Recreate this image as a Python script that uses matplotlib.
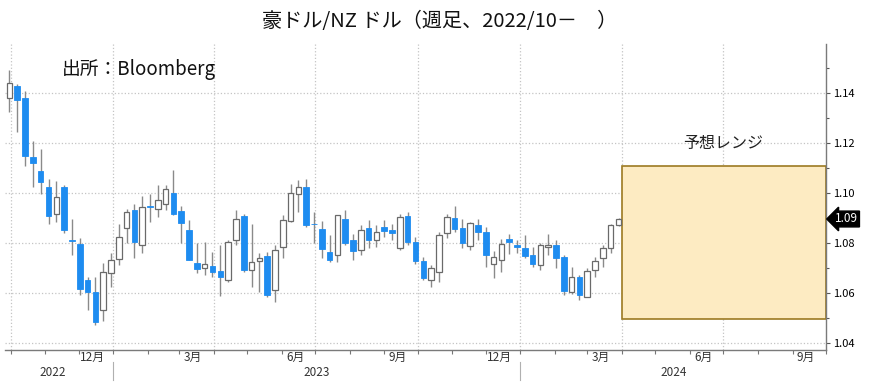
import matplotlib
matplotlib.use("Agg")
import matplotlib.pyplot as plt
import matplotlib.dates as mdates
import matplotlib.transforms as mtransforms
from matplotlib.lines import Line2D
from matplotlib.patches import Rectangle
import numpy as np
import pandas as pd

plt.rcParams['font.family'] = ['Noto Sans CJK JP', 'DejaVu Sans']

# weekly candles, AUD/NZD
dates = pd.date_range("2022-09-30", periods=79, freq="7D")
opens = [1.1380, 1.1427, 1.1380, 1.1144, 1.1088, 1.1024, 1.0917, 1.1021, 1.0812, 1.0795,
         1.0651, 1.0601, 1.0533, 1.0677, 1.0735, 1.0857, 1.0931, 1.0791, 1.0943, 1.0935,
         1.0956, 1.1000, 1.0927, 1.0853, 1.0720, 1.0697, 1.0707, 1.0687, 1.0651, 1.0811,
         1.0907, 1.0691, 1.0725, 1.0747, 1.0611, 1.0784, 1.0887, 1.0997, 1.1024, 1.0874,
         1.0856, 1.0763, 1.0753, 1.0896, 1.0811, 1.0773, 1.0857, 1.0813, 1.0861, 1.0851,
         1.0777, 1.0907, 1.0804, 1.0727, 1.0651, 1.0684, 1.0837, 1.0900, 1.0857, 1.0788,
         1.0871, 1.0841, 1.0715, 1.0731, 1.0815, 1.0793, 1.0777, 1.0751, 1.0713, 1.0784,
         1.0793, 1.0744, 1.0601, 1.0661, 1.0584, 1.0689, 1.0737, 1.0777, 1.0870]
highs = [1.1493, 1.1435, 1.1408, 1.1208, 1.1177, 1.1057, 1.1047, 1.1031, 1.0897, 1.0817,
         1.0664, 1.0664, 1.0720, 1.0760, 1.0877, 1.0937, 1.0955, 1.0987, 1.0997, 1.1031,
         1.1031, 1.1091, 1.0948, 1.0893, 1.0800, 1.0804, 1.0764, 1.0791, 1.0811, 1.0931,
         1.0917, 1.0877, 1.0757, 1.0764, 1.0791, 1.0911, 1.1037, 1.1053, 1.1057, 1.0924,
         1.0888, 1.0831, 1.0911, 1.0931, 1.0835, 1.0871, 1.0893, 1.0871, 1.0893, 1.0877,
         1.0917, 1.0924, 1.0824, 1.0741, 1.0711, 1.0844, 1.0915, 1.0948, 1.0897, 1.0884,
         1.0897, 1.0861, 1.0768, 1.0815, 1.0835, 1.0811, 1.0831, 1.0784, 1.0797, 1.0835,
         1.0811, 1.0753, 1.0701, 1.0671, 1.0697, 1.0743, 1.0791, 1.0877, 1.0900]
lows = [1.1324, 1.1244, 1.1107, 1.1024, 1.0997, 1.0875, 1.0884, 1.0837, 1.0751, 1.0591,
        1.0533, 1.0471, 1.0488, 1.0624, 1.0711, 1.0800, 1.0737, 1.0757, 1.0884, 1.0901,
        1.0931, 1.0911, 1.0797, 1.0731, 1.0677, 1.0671, 1.0664, 1.0587, 1.0644, 1.0791,
        1.0684, 1.0624, 1.0604, 1.0584, 1.0561, 1.0737, 1.0884, 1.0924, 1.0864, 1.0797,
        1.0737, 1.0724, 1.0724, 1.0791, 1.0731, 1.0751, 1.0777, 1.0781, 1.0824, 1.0813,
        1.0770, 1.0791, 1.0715, 1.0651, 1.0624, 1.0644, 1.0817, 1.0844, 1.0777, 1.0773,
        1.0811, 1.0704, 1.0657, 1.0684, 1.0755, 1.0757, 1.0737, 1.0704, 1.0691, 1.0751,
        1.0697, 1.0591, 1.0595, 1.0573, 1.0581, 1.0664, 1.0701, 1.0760, 1.0867]
closes = [1.1437, 1.1371, 1.1148, 1.1120, 1.1043, 1.0908, 1.0981, 1.0851, 1.0808, 1.0613,
          1.0601, 1.0481, 1.0684, 1.0731, 1.0824, 1.0924, 1.0804, 1.0944, 1.0941, 1.0971,
          1.1013, 1.0917, 1.0877, 1.0731, 1.0693, 1.0715, 1.0681, 1.0664, 1.0804, 1.0897,
          1.0691, 1.0724, 1.0739, 1.0591, 1.0771, 1.0891, 1.0997, 1.1024, 1.0871, 1.0871,
          1.0776, 1.0731, 1.0911, 1.0800, 1.0768, 1.0851, 1.0813, 1.0844, 1.0848, 1.0837,
          1.0904, 1.0804, 1.0728, 1.0657, 1.0697, 1.0831, 1.0901, 1.0853, 1.0797, 1.0877,
          1.0841, 1.0751, 1.0741, 1.0795, 1.0801, 1.0784, 1.0747, 1.0715, 1.0790, 1.0790,
          1.0737, 1.0607, 1.0661, 1.0591, 1.0685, 1.0725, 1.0780, 1.0870, 1.0895]

# forecast range
range_start = "2024-04-01"
range_end = "2024-10-01"
range_low = 1.0496
range_high = 1.1107
last_price = 1.0895

title = "豪ドル/NZ ドル（週足、2022/10－　）"
source = "出所：Bloomberg"
range_label = "予想レンジ"
month_labels = ["12月", "3月", "6月", "9月", "12月", "3月", "6月", "9月"]
month_label_dates = ["2022-12-13", "2023-03-13", "2023-06-13", "2023-09-13",
                     "2023-12-13", "2024-03-13", "2024-06-13", "2024-09-13"]
year_labels = ["2022", "2023", "2024"]
year_label_dates = ["2022-11-08", "2023-07-02", "2024-05-17"]
year_breaks = ["2023-01-01", "2024-01-01"]
y_ticks = [1.04, 1.06, 1.08, 1.10, 1.12, 1.14]

BLUE = "#1E8CF0"
GRID = "#C4C4C4"

fig = plt.figure(figsize=(8.72, 3.84), dpi=100)
ax = fig.add_axes([5/872, 1 - 350/384, 821/872, 306/384])

x = mdates.date2num(dates)
o = np.array(opens); c = np.array(closes)
up = c >= o

ax.vlines(x, lows, highs, color="#8a8a8a", linewidth=1.0, zorder=2)
body = np.where(np.abs(c - o) < 0.0003, 0.0003, c - o)
ax.bar(x[up], body[up], bottom=o[up], width=5, facecolor="white",
       edgecolor="#6a6a6a", linewidth=0.9, zorder=3)
ax.bar(x[~up], body[~up], bottom=o[~up], width=5, facecolor=BLUE,
       edgecolor=BLUE, linewidth=0.6, zorder=3)

# forecast box
x0 = mdates.date2num(pd.Timestamp(range_start))
x1 = mdates.date2num(pd.Timestamp(range_end))
ax.add_patch(Rectangle((x0, range_low), x1 - x0, range_high - range_low,
                       facecolor="#FDEBC2", edgecolor="#9C7A22", linewidth=1.2, zorder=1.5))
ax.text(mdates.date2num(pd.Timestamp("2024-07-01")), 1.1198, range_label,
        ha="center", va="center", fontsize=11.5, color="#222222")

ax.set_xlim(mdates.date2num(pd.Timestamp("2022-09-26")), x1)
ax.set_ylim(1.0371, 1.1595)

# axes styling
for s in ["left", "top"]:
    ax.spines[s].set_visible(False)
for s in ["right", "bottom"]:
    ax.spines[s].set_color("#7a7a7a")
    ax.spines[s].set_linewidth(1.0)

ax.yaxis.tick_right()
ax.set_yticks(y_ticks)
ax.set_yticklabels([f"{v:.2f}" for v in y_ticks])
ax.set_yticks(np.arange(1.04, 1.16, 0.01), minor=True)
ax.tick_params(axis="y", which="both", direction="out", length=3, width=0.8,
               color="#555555", labelsize=8, pad=2)
ax.tick_params(axis="y", which="minor", length=2)

quarters = pd.date_range("2022-10-01", "2024-07-01", freq="3MS")
months = pd.date_range("2022-10-01", "2024-10-01", freq="MS")
ax.set_xticks(mdates.date2num(quarters))
ax.set_xticks(mdates.date2num(months), minor=True)
ax.set_xticklabels([])
ax.tick_params(axis="x", which="both", direction="out", length=3, width=0.8, color="#777777")

ax.grid(True, axis="both", which="major", linestyle=":", color=GRID, linewidth=0.9, zorder=0)
ax.set_axisbelow(True)

# month / year labels under the axis
tr = mtransforms.blended_transform_factory(ax.transData, fig.transFigure)
for lab, d in zip(month_labels, month_label_dates):
    ax.text(mdates.date2num(pd.Timestamp(d)), 1 - 357/384, lab, transform=tr,
            ha="center", va="center", fontsize=8.5, color="#333333")
for lab, d in zip(year_labels, year_label_dates):
    ax.text(mdates.date2num(pd.Timestamp(d)), 1 - 373/384, lab, transform=tr,
            ha="center", va="center", fontsize=8.5, color="#333333")
for d in year_breaks:
    xd = mdates.date2num(pd.Timestamp(d))
    ax.add_line(Line2D([xd, xd], [1 - 362/384, 1 - 380/384], transform=tr,
                       color="#b0b0b0", linewidth=0.8, clip_on=False))

# last price tag
tr2 = mtransforms.blended_transform_factory(ax.transAxes, ax.transData)
ax.text(1.011, last_price, f"{last_price:.2f}", transform=tr2, ha="left", va="center",
        fontsize=8.5, color="white",
        bbox=dict(boxstyle="larrow,pad=0.12", facecolor="black", edgecolor="black"))

fig.text(440/872, 1 - 22/384, title, ha="center", va="center", fontsize=14.5, color="#111111")
ax.text(62/872, 1 - 70/384, source, transform=fig.transFigure, ha="left", va="center",
        fontsize=13.5, color="#111111")

fig.savefig("out.png", dpi=100)
